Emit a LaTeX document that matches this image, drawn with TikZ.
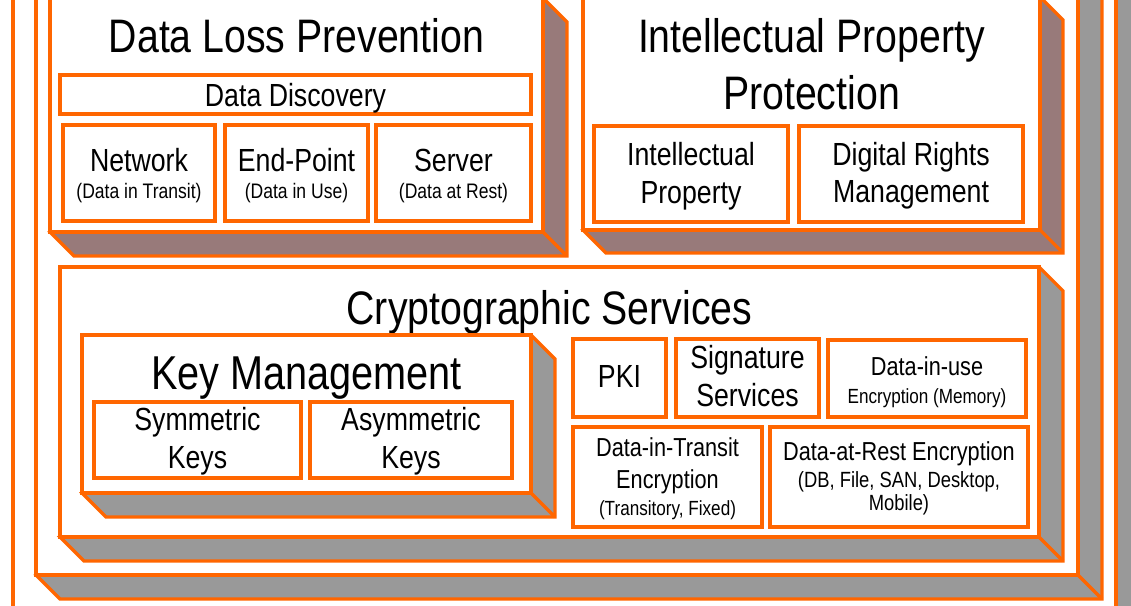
\documentclass[tikz,border=0pt]{standalone}
\usepackage{fontspec}
\setmainfont[FakeStretch=0.835]{Liberation Sans}
\definecolor{orng}{RGB}{255,102,0}
\definecolor{mauve}{RGB}{152,122,122}
\definecolor{shgray}{RGB}{153,153,153}
\tikzset{
  edge line/.style={draw=orng, line width=3.2pt, line join=miter},
  face/.style={edge line, fill=white, inner sep=0pt, outer sep=0pt},
  lbl/.style={inner sep=0pt, anchor=base, text=black},
  tbig/.style={lbl, font=\fontsize{47}{56}\selectfont},
  tkm/.style={lbl, font=\fontsize{47.5}{56}\selectfont},
  tmid/.style={lbl, font=\fontsize{32}{38}\selectfont},
  tsub/.style={lbl, font=\fontsize{26}{31}\selectfont},
  tsmall/.style={lbl, font=\fontsize{21}{25}\selectfont},
  tsmaller/.style={lbl, font=\fontsize{20.5}{25}\selectfont},
  tdb/.style={lbl, font=\fontsize{22}{26}\selectfont},
}
% front face: name, L, T, R, B
\newcommand\facebox[5]{%
  \node[face, minimum width={(#4-#2)*1pt}, minimum height={(#5-#3)*1pt}] (#1) at ({(#2+#4)/2},{(#3+#5)/2}) {};}
% solid 3D box: name, L, T, R, B, depth, shadow colour
\newcommand\solidbox[7]{%
  \filldraw[edge line, fill=#7] (#4,#3) -- ({#4+#6},{#3+#6}) -- ({#4+#6},{#5+#6}) -- ({#2+#6},{#5+#6}) -- (#2,#5) -- cycle;
  \draw[edge line] (#4,#5) -- ({#4+#6},{#5+#6});
  \facebox{#1}{#2}{#3}{#4}{#5}}
\begin{document}
\begin{tikzpicture}[x=1pt,y=-1pt]
\useasboundingbox (0,0) rectangle (1131,605);
\clip (0,0) rectangle (1131,605);
\fill[white] (0,0) rectangle (1131,605);

% nested frames
\begin{scope}[edge line/.append style={line width=4pt}]
\solidbox{outer}{13}{-100}{1116}{700}{24}{shgray}
\end{scope}
\solidbox{frame}{36}{-100}{1078}{575}{24}{shgray}

% Data Loss Prevention
\solidbox{dlp}{50}{-2}{543}{232}{24}{mauve}
\node[tbig] (dlpT) at (296.5,52) {Data Loss Prevention};
\facebox{disc}{60}{75}{531}{114}
\node[tmid] (discT) at (295.5,106) {Data Discovery};
\facebox{net}{63}{125}{215}{221}
\node[tmid] (netT) at (139,171) {Network};
\node[tsmall] (netS) at (139,198) {(Data in Transit)};
\facebox{endp}{225}{125}{368}{221}
\node[tmid] (endpT) at (296.5,171) {End-Point};
\node[tsmall] (endpS) at (296.5,198) {(Data in Use)};
\facebox{serv}{376}{125}{531}{221}
\node[tmid] (servT) at (453.5,171) {Server};
\node[tsmall] (servS) at (453.5,198) {(Data at Rest)};

% Intellectual Property Protection
\solidbox{ipp}{583}{-3}{1040}{230}{23}{mauve}
\node[tbig] (ippT1) at (811.5,52) {Intellectual Property};
\node[tbig] (ippT2) at (811.5,109) {Protection};
\facebox{ip}{594}{126}{788}{222}
\node[tmid] (ipT1) at (691,165) {Intellectual};
\node[tmid] (ipT2) at (691,203) {Property};
\facebox{drm}{799}{126}{1023}{222}
\node[tmid] (drmT1) at (911,165) {Digital Rights};
\node[tmid] (drmT2) at (911,202) {Management};

% Cryptographic Services
\solidbox{crypto}{60}{267}{1039}{537}{24}{shgray}
\node[tbig] (cryptoT) at (549.5,324) {Cryptographic Services};

\solidbox{km}{82}{335}{531}{493}{24}{shgray}
\node[tkm] (kmT) at (306.5,389) {Key Management};
\facebox{sym}{94}{402}{301}{478}
\node[tmid] (symT1) at (197.5,430) {Symmetric};
\node[tmid] (symT2) at (197.5,468) {Keys};
\facebox{asym}{310}{402}{512}{478}
\node[tmid] (asymT1) at (411,430) {Asymmetric};
\node[tmid] (asymT2) at (411,468) {Keys};

\facebox{pki}{573}{339}{666}{417}
\node[tmid] (pkiT) at (619.5,387) {PKI};
\facebox{sig}{676}{339}{819}{417}
\node[tmid] (sigT1) at (747.5,368) {Signature};
\node[tmid] (sigT2) at (747.5,406) {Services};
\facebox{use}{828}{340}{1026}{417}
\node[tsub] (useT1) at (927,375) {Data-in-use};
\node[tsmaller] (useT2) at (927,403) {Encryption (Memory)};
\facebox{transit}{573}{427}{762}{527}
\node[tsub] (transitT1) at (667.5,456) {Data-in-Transit};
\node[tsub] (transitT2) at (667.5,488) {Encryption};
\node[tsmaller] (transitT3) at (667.5,515) {(Transitory, Fixed)};
\facebox{rest}{770}{427}{1028}{527}
\node[tsub] (restT1) at (899,460) {Data-at-Rest Encryption};
\node[tdb] (restT2) at (899,487) {(DB, File, SAN, Desktop,};
\node[tdb] (restT3) at (899,510) {Mobile)};
\end{tikzpicture}
\end{document}
